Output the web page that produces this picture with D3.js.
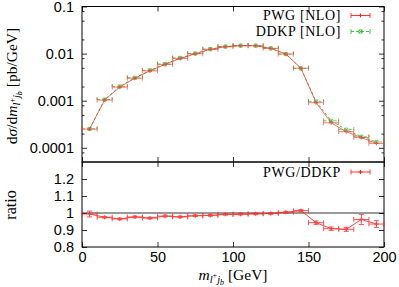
<!DOCTYPE html>
<html>
<head>
<meta charset="utf-8">
<script src="https://cdn.jsdelivr.net/npm/d3@7"></script>
<style>
  body { margin: 0; background: #fff; }
  svg { display: block; font-family: "Liberation Serif", "DejaVu Serif", serif; }
</style>
</head>
<body>
<svg id="chart" width="399" height="287"></svg>
<script>
// bin centres (GeV), 10 GeV bins
var mass = [5, 15, 25, 35, 45, 55, 65, 75, 85, 95, 105, 115, 125, 135, 145, 155, 165, 175, 185, 195]
var halfBin = 5

// dsigma/dm [pb/GeV]
var pwg = [2.5e-4, 1.03e-3, 1.94e-3, 3.0e-3, 4.3e-3, 5.9e-3, 7.9e-3, 9.9e-3, 1.23e-2, 1.40e-2,
           1.47e-2, 1.47e-2, 1.29e-2, 9.8e-3, 4.9e-3, 9.1e-4, 3.4e-4, 2.2e-4, 1.65e-4, 1.24e-4]
var ddkp = [2.52e-4, 1.06e-3, 2.01e-3, 3.07e-3, 4.43e-3, 6.0e-3, 8.09e-3, 1.006e-2, 1.247e-2, 1.411e-2,
            1.48e-2, 1.477e-2, 1.294e-2, 9.76e-3, 4.83e-3, 9.65e-4, 3.74e-4, 2.43e-4, 1.72e-4, 1.33e-4]

// PWG/DDKP
var ratio = [0.994, 0.975, 0.965, 0.977, 0.970, 0.982, 0.977, 0.984, 0.986, 0.992,
             0.993, 0.995, 0.997, 1.004, 1.014, 0.943, 0.908, 0.904, 0.962, 0.935]
var ratioErr = [0.017, 0.005, 0.005, 0.005, 0.005, 0.005, 0.005, 0.005, 0.005, 0.005,
                0.005, 0.005, 0.005, 0.005, 0.006, 0.01, 0.01, 0.012, 0.03, 0.02]

var xTicks = [0, 50, 100, 150, 200]
var yTopTicks = [0.1, 0.01, 0.001, 0.0001]
var yTopMinor = [0.08, 0.05, 0.02, 0.008, 0.005, 0.002, 0.0008, 0.0005, 0.0002, 0.00008]
var yRatTicks = [0.8, 0.9, 1, 1.1, 1.2]

var svg = d3.select("#chart")

var x = d3.scaleLinear().domain([0, 200]).range([82, 384])
var yTop = d3.scaleLog().domain([5e-5, 0.1]).range([162, 6.5])
var yRat = d3.scaleLinear().domain([0.8, 1.3]).range([247, 162])

var red = "#f22"
var green = "#3b3"
var tickFont = "14.5px"

function styleAxis(g) {
  g.select(".domain").remove()
  g.selectAll("line").attr("stroke", "#000").attr("stroke-width", 0.8)
  g.selectAll("text").style("font-size", tickFont).attr("fill", "#000")
}

// ---- top panel axes ----
svg.append("g").attr("transform", "translate(82,0)")
  .call(d3.axisLeft(yTop).tickValues(yTopTicks).tickFormat(d => d.toString()).tickSize(-5).tickPadding(8))
  .call(styleAxis)
svg.append("g").attr("transform", "translate(82,0)")
  .call(d3.axisLeft(yTop).tickValues(yTopMinor).tickFormat("").tickSize(-2.5))
  .call(styleAxis)
svg.append("g").attr("transform", "translate(384,0)")
  .call(d3.axisRight(yTop).tickValues(yTopTicks).tickFormat("").tickSize(-5))
  .call(styleAxis)
svg.append("g").attr("transform", "translate(384,0)")
  .call(d3.axisRight(yTop).tickValues(yTopMinor).tickFormat("").tickSize(-2.5))
  .call(styleAxis)
svg.append("g").attr("transform", "translate(0,6.5)")
  .call(d3.axisTop(x).tickValues(xTicks).tickFormat("").tickSize(-5))
  .call(styleAxis)
svg.append("g").attr("transform", "translate(0,162)")
  .call(d3.axisBottom(x).tickValues(xTicks).tickFormat("").tickSize(-5))
  .call(styleAxis)

// ---- ratio panel axes ----
svg.append("g").attr("transform", "translate(82,0)")
  .call(d3.axisLeft(yRat).tickValues(yRatTicks).tickFormat(d => d.toString()).tickSize(-5).tickPadding(8))
  .call(styleAxis)
svg.append("g").attr("transform", "translate(384,0)")
  .call(d3.axisRight(yRat).tickValues(yRatTicks).tickFormat("").tickSize(-5))
  .call(styleAxis)
svg.append("g").attr("transform", "translate(0,247)")
  .call(d3.axisBottom(x).tickValues(xTicks).tickFormat(d => d.toString()).tickSize(-5).tickPadding(5))
  .call(styleAxis)
svg.append("g").attr("transform", "translate(0,162)")
  .call(d3.axisTop(x).tickValues(xTicks).tickFormat("").tickSize(-5))
  .call(styleAxis)

// frames
svg.append("rect").attr("x", 82).attr("y", 6.5).attr("width", 302).attr("height", 155.5)
  .attr("fill", "none").attr("stroke", "#000").attr("stroke-width", 1)
svg.append("rect").attr("x", 82).attr("y", 162).attr("width", 302).attr("height", 85)
  .attr("fill", "none").attr("stroke", "#000").attr("stroke-width", 1)

// line at ratio 1
svg.append("line").attr("x1", x(0)).attr("x2", x(200)).attr("y1", yRat(1)).attr("y2", yRat(1))
  .attr("stroke", "#000").attr("stroke-width", 0.8)

// draws one series with horizontal bin bars + caps
function drawSeries(g, vals, yScale, col, dash, errs, marker, op) {
  var pts = mass.map((m, i) => ({m: m, v: vals[i], e: errs ? errs[i] : 0}))
  var line = d3.line().x(d => x(d.m)).y(d => yScale(d.v))
  g = g.append("g").attr("opacity", op)
  g.append("path").datum(pts).attr("d", line)
    .attr("fill", "none").attr("stroke", col).attr("stroke-width", 1)
    .attr("stroke-dasharray", dash)
  var bars = g.append("g").attr("stroke", col).attr("stroke-width", 0.9).attr("stroke-dasharray", dash)
  pts.forEach(d => {
    var cy = yScale(d.v)
    var xl = x(d.m - halfBin), xr = x(d.m + halfBin)
    bars.append("line").attr("x1", xl).attr("x2", xr).attr("y1", cy).attr("y2", cy)
    bars.append("line").attr("x1", xl).attr("x2", xl).attr("y1", cy - 2.5).attr("y2", cy + 2.5).attr("stroke-dasharray", null)
    bars.append("line").attr("x1", xr).attr("x2", xr).attr("y1", cy - 2.5).attr("y2", cy + 2.5).attr("stroke-dasharray", null)
    if (d.e) {
      var y0 = yScale(d.v - d.e), y1 = yScale(d.v + d.e)
      var cx = x(d.m)
      bars.append("line").attr("x1", cx).attr("x2", cx).attr("y1", y0).attr("y2", y1).attr("stroke-dasharray", null)
      bars.append("line").attr("x1", cx - 2.5).attr("x2", cx + 2.5).attr("y1", y0).attr("y2", y0).attr("stroke-dasharray", null)
      bars.append("line").attr("x1", cx - 2.5).attr("x2", cx + 2.5).attr("y1", y1).attr("y2", y1).attr("stroke-dasharray", null)
    }
    marker(g, x(d.m), cy)
  })
}

function plusMark(g, cx, cy) {
  g.append("path").attr("d", `M${cx - 2},${cy}H${cx + 2}M${cx},${cy - 2}V${cy + 2}`)
    .attr("stroke", red).attr("stroke-width", 1.2)
}
function boxMark(g, cx, cy) {
  g.append("path").attr("d", `M${cx - 1.6},${cy - 1.6}h3.2v3.2h-3.2zM${cx - 1.6},${cy - 1.6}l3.2,3.2M${cx + 1.6},${cy - 1.6}l-3.2,3.2`)
    .attr("stroke", green).attr("stroke-width", 0.8).attr("fill", "none")
}

var gTop = svg.append("g")
drawSeries(gTop, ddkp, yTop, green, "3,2", null, boxMark, 0.8)
drawSeries(gTop, pwg, yTop, red, null, null, plusMark, 0.65)

var gRat = svg.append("g")
drawSeries(gRat, ratio, yRat, red, null, ratioErr, plusMark, 0.85)

// legends
function legendEntry(label, ty, col, dash, marker) {
  svg.append("text").attr("x", 341).attr("y", ty).attr("dy", "0.33em")
    .attr("text-anchor", "end").style("font-size", "14px").style("letter-spacing", "0.6px").text(label)
  var g = svg.append("g").attr("stroke", col).attr("stroke-width", 0.9)
  g.append("line").attr("x1", 351).attr("x2", 370).attr("y1", ty).attr("y2", ty).attr("stroke-dasharray", dash)
  g.append("line").attr("x1", 351).attr("x2", 351).attr("y1", ty - 2.5).attr("y2", ty + 2.5)
  g.append("line").attr("x1", 370).attr("x2", 370).attr("y1", ty - 2.5).attr("y2", ty + 2.5)
  marker(svg, 360.5, ty)
}
legendEntry("PWG [NLO]", 15.5, red, null, plusMark)
legendEntry("DDKP [NLO]", 31.5, green, "3,2", boxMark)
legendEntry("PWG/DDKP", 172, red, null, plusMark)

// axis titles
var yt = svg.append("text").attr("transform", "translate(17,86) rotate(-90)")
  .attr("text-anchor", "middle").style("font-size", "15.5px")
yt.append("tspan").text("d")
yt.append("tspan").text("σ").style("font-style", "italic")
yt.append("tspan").text("/d")
yt.append("tspan").text("m").style("font-style", "italic")
yt.append("tspan").text("l").style("font-style", "italic").style("font-size", "10.5px").attr("dy", 3)
yt.append("tspan").text("+").style("font-size", "8px").attr("dy", -5)
yt.append("tspan").text("j").style("font-style", "italic").style("font-size", "10.5px").attr("dy", 5)
yt.append("tspan").text("b").style("font-style", "italic").style("font-size", "8px").attr("dy", 2)
yt.append("tspan").text(" [pb/GeV]").attr("dy", -5)

svg.append("text").attr("transform", "translate(16,205) rotate(-90)")
  .attr("text-anchor", "middle").style("font-size", "16px").text("ratio")

var xt = svg.append("text").attr("x", 233).attr("y", 280)
  .attr("text-anchor", "middle").style("font-size", "15.5px")
xt.append("tspan").text("m").style("font-style", "italic")
xt.append("tspan").text("l").style("font-style", "italic").style("font-size", "10.5px").attr("dy", 3)
xt.append("tspan").text("+").style("font-size", "8px").attr("dy", -5)
xt.append("tspan").text("j").style("font-style", "italic").style("font-size", "10.5px").attr("dy", 5)
xt.append("tspan").text("b").style("font-style", "italic").style("font-size", "8px").attr("dy", 2)
xt.append("tspan").text(" [GeV]").attr("dy", -5)
</script>
</body>
</html>
